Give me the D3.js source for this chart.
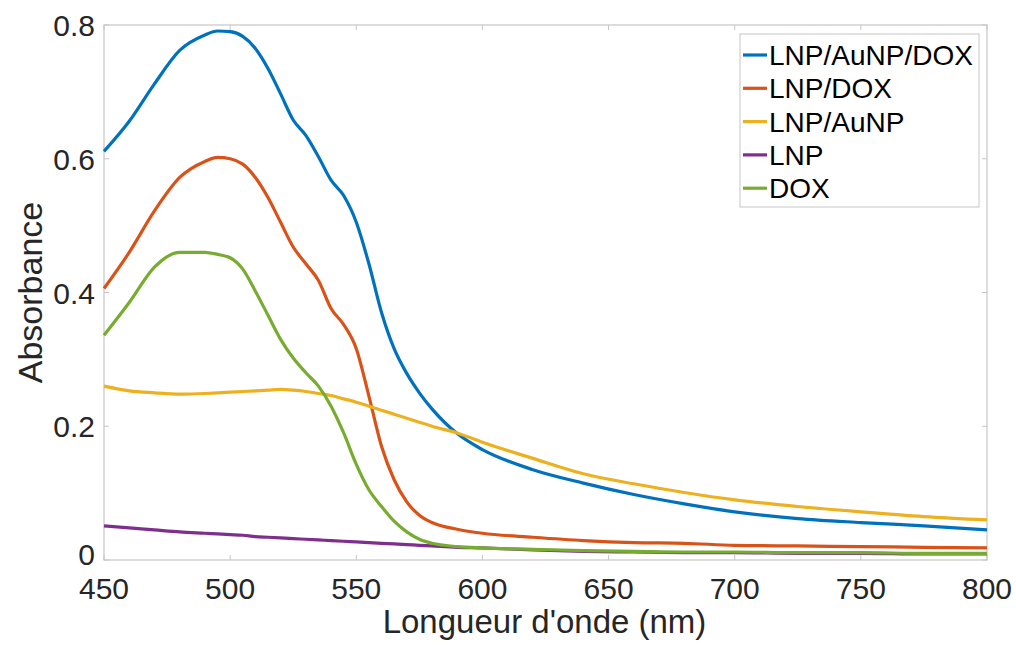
<!DOCTYPE html>
<html>
<head>
<meta charset="utf-8">
<script src="https://cdn.jsdelivr.net/npm/d3@7"></script>
<style>
  body { margin: 0; background: #fff; }
  text { font-family: "Liberation Sans", Arial, sans-serif; }
</style>
</head>
<body>
<div id="chart"></div>
<script>
// wavelength grid (nm)
const wavelengths = [450, 460, 470, 480, 490, 495, 500, 505, 510, 515, 520, 525, 530, 535, 540, 545, 550, 555, 560, 565, 570, 575, 580, 590, 600, 620, 640, 660, 680, 700, 725, 750, 775, 800];

const lnpAunpDox = [0.611, 0.656, 0.712, 0.762, 0.785, 0.791, 0.790, 0.783, 0.765, 0.735, 0.697, 0.658, 0.635, 0.603, 0.568, 0.545, 0.505, 0.443, 0.370, 0.316, 0.279, 0.250, 0.226, 0.189, 0.165, 0.135, 0.115, 0.098, 0.084, 0.072, 0.062, 0.056, 0.051, 0.045];
const lnpDox = [0.406, 0.460, 0.522, 0.572, 0.596, 0.602, 0.600, 0.592, 0.572, 0.542, 0.505, 0.468, 0.443, 0.418, 0.376, 0.352, 0.316, 0.245, 0.170, 0.120, 0.087, 0.067, 0.056, 0.046, 0.040, 0.034, 0.029, 0.026, 0.025, 0.022, 0.021, 0.020, 0.019, 0.018];
const lnpAunp = [0.260, 0.253, 0.250, 0.248, 0.249, 0.250, 0.251, 0.252, 0.253, 0.254, 0.255, 0.254, 0.252, 0.249, 0.246, 0.241, 0.236, 0.230, 0.224, 0.218, 0.212, 0.206, 0.200, 0.190, 0.176, 0.152, 0.129, 0.114, 0.101, 0.090, 0.080, 0.072, 0.065, 0.060];
const lnp = [0.051, 0.048, 0.045, 0.042, 0.040, 0.039, 0.038, 0.037, 0.035, 0.034, 0.033, 0.032, 0.031, 0.030, 0.029, 0.028, 0.027, 0.026, 0.025, 0.024, 0.023, 0.022, 0.021, 0.019, 0.018, 0.015, 0.013, 0.012, 0.011, 0.011, 0.010, 0.010, 0.009, 0.009];
const dox = [0.336, 0.385, 0.438, 0.460, 0.460, 0.457, 0.452, 0.435, 0.402, 0.366, 0.330, 0.302, 0.280, 0.260, 0.230, 0.190, 0.143, 0.105, 0.080, 0.058, 0.042, 0.031, 0.025, 0.020, 0.018, 0.016, 0.014, 0.013, 0.012, 0.012, 0.011, 0.011, 0.010, 0.010];

const seriesNames = ['LNP/AuNP/DOX', 'LNP/DOX', 'LNP/AuNP', 'LNP', 'DOX'];
const seriesValues = [lnpAunpDox, lnpDox, lnpAunp, lnp, dox];
const seriesColors = ['#0072BD', '#D95319', '#EDB120', '#7E2F8E', '#77AC30'];

const xTicks = [450, 500, 550, 600, 650, 700, 750, 800];
const yTicks = [0, 0.2, 0.4, 0.6, 0.8];

const W = 1016, H = 645;
const margin = {top: 25, right: 29, bottom: 85, left: 104};
const width = W - margin.left - margin.right;
const height = H - margin.top - margin.bottom;

const svg = d3.select('#chart').append('svg')
    .attr('width', W)
    .attr('height', H);

const g = svg.append('g')
    .attr('transform', 'translate(' + margin.left + ',' + margin.top + ')');

const x = d3.scaleLinear().domain([450, 800]).range([0, width]);
const y = d3.scaleLinear().domain([0, 0.8]).range([height, 0]);

const axisColor = '#c6c6c6';
const labelColor = '#262626';

// box
g.append('rect')
    .attr('width', width)
    .attr('height', height)
    .attr('fill', 'none')
    .attr('stroke', axisColor)
    .attr('stroke-width', 1.2);

// ticks (inside, on all four sides)
const tickLen = 5;
xTicks.forEach(t => {
    g.append('line').attr('x1', x(t)).attr('x2', x(t)).attr('y1', height).attr('y2', height - tickLen).attr('stroke', axisColor);
    g.append('line').attr('x1', x(t)).attr('x2', x(t)).attr('y1', 0).attr('y2', tickLen).attr('stroke', axisColor);
});
yTicks.forEach(t => {
    g.append('line').attr('x1', 0).attr('x2', tickLen).attr('y1', y(t)).attr('y2', y(t)).attr('stroke', axisColor);
    g.append('line').attr('x1', width).attr('x2', width - tickLen).attr('y1', y(t)).attr('y2', y(t)).attr('stroke', axisColor);
});

// tick labels
g.append('g').selectAll('text')
    .data(xTicks)
    .enter().append('text')
    .attr('x', d => x(d))
    .attr('y', height + 39)
    .attr('text-anchor', 'middle')
    .attr('font-size', 30)
    .attr('fill', labelColor)
    .text(d => d);

g.append('g').selectAll('text')
    .data(yTicks)
    .enter().append('text')
    .attr('x', -9)
    .attr('y', d => y(d) + (d === 0 ? 5 : 11))
    .attr('text-anchor', 'end')
    .attr('font-size', 30)
    .attr('fill', labelColor)
    .text(d => d === 0 ? '0' : d.toFixed(1));

// axis labels
svg.append('text')
    .attr('x', margin.left + width / 2 - 1)
    .attr('y', 633)
    .attr('text-anchor', 'middle')
    .attr('font-size', 33)
    .attr('fill', labelColor)
    .text("Longueur d'onde (nm)");

svg.append('text')
    .attr('transform', 'translate(42,' + (margin.top + height / 2) + ') rotate(-90)')
    .attr('text-anchor', 'middle')
    .attr('font-size', 34)
    .attr('fill', labelColor)
    .text('Absorbance');

// lines
const line = d3.line()
    .x((d, i) => x(wavelengths[i]))
    .y(d => y(d))
    .curve(d3.curveMonotoneX);

g.append('g').selectAll('path')
    .data(seriesValues)
    .enter().append('path')
    .attr('d', d => line(d))
    .attr('fill', 'none')
    .attr('stroke', (d, i) => seriesColors[i])
    .attr('stroke-width', 3.2)
    .attr('stroke-linejoin', 'round');

// legend
const legend = svg.append('g').attr('transform', 'translate(740,34)');
legend.append('rect')
    .attr('width', 239)
    .attr('height', 173)
    .attr('fill', '#fff')
    .attr('stroke', axisColor)
    .attr('stroke-width', 1);

const rows = legend.selectAll('g.row')
    .data(seriesNames)
    .enter().append('g')
    .attr('class', 'row')
    .attr('transform', (d, i) => 'translate(0,' + (21 + i * 33.3) + ')');
rows.append('line')
    .attr('x1', 3).attr('x2', 27)
    .attr('stroke', (d, i) => seriesColors[i])
    .attr('stroke-width', 3.2);
rows.append('text')
    .attr('x', 29)
    .attr('y', 10)
    .attr('font-size', 28)
    .attr('fill', '#000')
    .text(d => d);
</script>
</body>
</html>
